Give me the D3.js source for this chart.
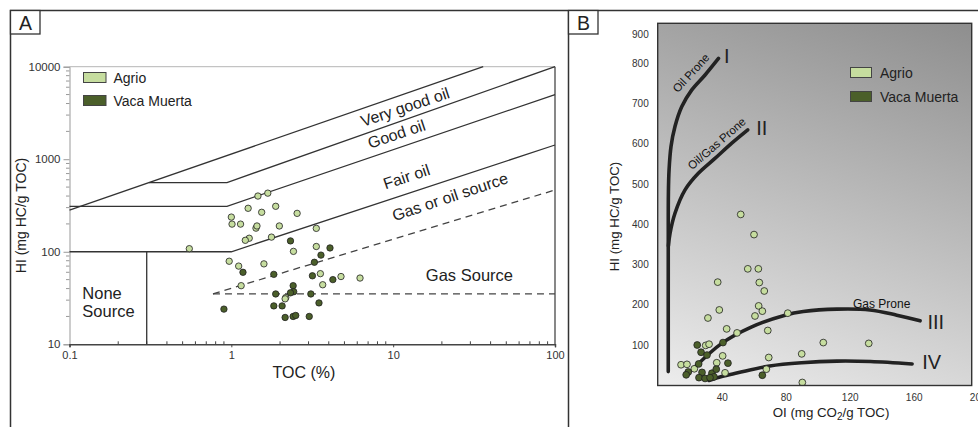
<!DOCTYPE html>
<html>
<head>
<meta charset="utf-8">
<script src="https://cdn.jsdelivr.net/npm/d3@7"></script>
<style>
  html, body { margin: 0; padding: 0; background: #fff; }
  svg { display: block; font-family: "Liberation Sans", Arial, sans-serif; }
</style>
</head>
<body>
<svg id="chart" width="978" height="427"></svg>
<script>
// ---- Panel A: HI vs TOC (log-log) ----
const agrioTOC = [1.46, 1.68, 1.27, 1.54, 1.88, 2.55, 1.0, 1.01, 1.14, 1.42, 1.44, 1.98, 3.35, 1.29, 1.22,
                  1.77, 0.55, 3.35, 2.42, 0.97, 1.11, 1.59, 3.55, 4.76, 6.24, 3.67, 1.15, 2.17, 2.15];
const agrioHI  = [400, 430, 295, 267, 310, 260, 237, 199, 199, 180, 190, 190, 179, 140, 133,
                  144, 108, 114, 101, 79, 70, 74, 58, 54, 52, 44, 43, 32, 31];
const vacaTOC  = [2.32, 4.07, 3.58, 3.26, 1.18, 1.83, 3.17, 4.24, 2.41, 2.43, 2.32, 1.88, 3.10, 3.48,
                  1.83, 2.06, 0.90, 2.15, 2.41, 2.50, 3.03];
const vacaHI   = [131, 110, 92, 77, 60, 57, 55, 50, 43, 37, 36, 35, 35, 28,
                  26, 26, 24, 19.5, 20, 20.5, 20];

// classification boundaries, [TOC, HI]
const veryGoodUpper = [[0.1, 282], [36, 10000]];
const goodUpper     = [[0.31, 560], [0.94, 560], [100, 10000]];
const fairUpper     = [[0.1, 310], [0.94, 310], [100, 5000]];
const fairLower     = [[0.1, 100], [1, 100], [100, 1425]];
const noneSource    = [[0.3, 10], [0.3, 100]];
const gasOilDashed  = [[0.77, 35], [100, 465]];
const gasDashed     = [[0.77, 35], [100, 35]];

const tocTicks = [0.1, 1, 10, 100];
const hiTicksA = [10, 100, 1000, 10000];

// ---- Panel B: pseudo Van Krevelen, HI vs OI ----
const agrioOI  = [51.9, 60.2, 56.3, 62.9, 37.5, 63.5, 66.6, 63.1, 65.4, 60.8, 38.5, 31.4, 81.3, 43.1, 49.6,
                  68.8, 30, 32.1, 40.6, 69.4, 14.6, 18.3, 22.9, 36.9, 42.1, 67.9, 103.5, 131.9, 90, 90.4];
const agrioHIb = [424, 374, 289, 289, 256, 255, 234, 197, 184, 172, 187, 167, 179, 140, 130,
                  136, 99, 102, 73, 69, 51, 52, 41, 56, 31, 40, 106, 104, 78, 7];
const vacaOI   = [24.7, 27.1, 40.8, 25.6, 43.9, 19.1, 17.8, 27.7, 25.8, 29.6, 33.9, 36.6, 35.2, 32.7, 65.4, 30.8];
const vacaHIb  = [100, 82, 106, 53, 55, 33, 26, 32, 19, 17, 30, 40, 21, 19, 25, 75];

// kerogen type evolution paths, [OI, HI]
const typeI   = [[6.6, 34], [6.6, 340], [6.7, 480], [7.1, 534], [8.3, 592], [10.8, 642], [15, 691], [21.3, 733], [29.6, 770], [38, 811]];
const typeII  = [[6.7, 346], [7.7, 377], [10.8, 427], [17.1, 485], [25.4, 526], [35.8, 563], [46.3, 601], [56.3, 634]];
const typeIII = [[23, 44], [40, 104], [58.8, 145], [79.6, 174], [91, 183], [112, 189], [132.7, 187], [149.4, 174], [164, 160]];
const typeIV  = [[32, 12], [40, 22], [50, 31], [70, 48], [90, 56], [112, 60], [133, 59], [159, 53]];

const oiTicks  = [40, 80, 120, 160, 200];
const hiTicksB = [100, 200, 300, 400, 500, 600, 700, 800, 900];

const seriesNames = ["Agrio", "Vaca Muerta"];
const seriesFill  = ["#c6dd9f", "#4b5f2a"];

const svg = d3.select("#chart");
const ink = "#333";

// outer frames and panel letters
svg.append("path")
  .attr("d", "M10.5,427V10.5H978M568.5,10.5V427")
  .attr("fill", "none").attr("stroke", ink).attr("stroke-width", 1.5);
[["A", 10.5, 25.5], ["B", 568.5, 583.5]].forEach(([t, bx, tx]) => {
  svg.append("rect").attr("x", bx).attr("y", 10.5).attr("width", 29.5).attr("height", 23.5)
    .attr("fill", "#fff").attr("stroke", ink).attr("stroke-width", 1.3);
  svg.append("text").attr("x", tx).attr("y", 30).attr("text-anchor", "middle")
    .attr("font-size", 19.5).attr("fill", "#222").text(t);
});

// ================= Panel A =================
const xA = d3.scaleLog().domain([0.1, 100]).range([69.5, 555]);
const yA = d3.scaleLog().domain([10, 10000]).range([344.3, 66.7]);
const gA = svg.append("g");

// plot border: light top, dark right
gA.append("line").attr("x1", xA(0.1)).attr("x2", xA(100)).attr("y1", yA(10000)).attr("y2", yA(10000))
  .attr("stroke", "#b5b5b5").attr("stroke-width", 1);
gA.append("line").attr("x1", xA(100)).attr("x2", xA(100)).attr("y1", yA(10000)).attr("y2", yA(10))
  .attr("stroke", "#555").attr("stroke-width", 1.4);

// minor ticks
const minorTOC = [], minorHI = [];
[0.1, 1, 10].forEach(d => { for (let k = 2; k <= 9; k++) minorTOC.push(d * k); });
[10, 100, 1000].forEach(d => { for (let k = 2; k <= 9; k++) minorHI.push(d * k); });

const axLeft = gA.append("g").attr("transform", `translate(${xA(0.1)},0)`)
  .call(d3.axisLeft(yA).tickValues(hiTicksA).tickSize(6).tickPadding(3).tickFormat(d3.format("d")));
axLeft.select(".domain").attr("stroke", "#999");
axLeft.selectAll(".tick line").attr("stroke", "#999");
axLeft.selectAll("text").attr("font-size", 11.5).attr("fill", ink).attr("font-family", null);
gA.append("g").selectAll("line").data(minorHI).join("line")
  .attr("x1", xA(0.1) - 3.5).attr("x2", xA(0.1)).attr("y1", d => yA(d)).attr("y2", d => yA(d))
  .attr("stroke", "#999");

const axBottom = gA.append("g").attr("transform", `translate(0,${yA(10)})`)
  .call(d3.axisBottom(xA).tickValues(tocTicks).tickSize(3).tickPadding(4)
    .tickFormat(d => d < 1 ? "0.1" : d3.format("d")(d)));
axBottom.select(".domain").attr("stroke", "#444").attr("stroke-width", 1.5);
axBottom.selectAll(".tick line").attr("stroke", "#444");
axBottom.selectAll("text").attr("font-size", 11).attr("fill", ink).attr("font-family", null);
gA.append("g").selectAll("line").data(minorTOC).join("line")
  .attr("x1", d => xA(d)).attr("x2", d => xA(d)).attr("y1", yA(10) - 3).attr("y2", yA(10))
  .attr("stroke", "#444");

// boundaries
const lineA = d3.line().x(d => xA(d[0])).y(d => yA(d[1]));
[veryGoodUpper, goodUpper, fairUpper, fairLower, noneSource].forEach(p =>
  gA.append("path").attr("d", lineA(p)).attr("fill", "none").attr("stroke", "#333").attr("stroke-width", 1.3));
[gasOilDashed, gasDashed].forEach(p =>
  gA.append("path").attr("d", lineA(p)).attr("fill", "none").attr("stroke", "#444")
    .attr("stroke-width", 1.3).attr("stroke-dasharray", "7,5"));

// zone labels
const slopeDeg = -18.5;
[["Very good oil", 11.85, 3664], ["Good oil", 10.5, 1873], ["Fair oil", 12.1, 647], ["Gas or oil source", 22.5, 393]]
  .forEach(([t, tx, ty]) => {
    gA.append("text")
      .attr("transform", `translate(${xA(tx)},${yA(ty)}) rotate(${slopeDeg})`)
      .attr("text-anchor", "middle").attr("dominant-baseline", "central")
      .attr("font-size", 16).attr("fill", "#222").text(t);
  });
gA.append("text").attr("x", xA(29.6)).attr("y", yA(48.2)).attr("text-anchor", "middle")
  .attr("font-size", 16.5).attr("fill", "#222").text("Gas Source");
gA.append("text").attr("x", xA(0.12)).attr("y", yA(31)).attr("font-size", 16.5).attr("fill", "#222").text("None");
gA.append("text").attr("x", xA(0.12)).attr("y", yA(19.5)).attr("font-size", 16.5).attr("fill", "#222").text("Source");

// axis titles
gA.append("text").attr("transform", "translate(26,215.5) rotate(-90)").attr("text-anchor", "middle")
  .attr("font-size", 14).attr("fill", "#222").text("HI (mg HC/g TOC)");
gA.append("text").attr("x", 304).attr("y", 378).attr("text-anchor", "middle")
  .attr("font-size", 16).attr("fill", "#222").text("TOC (%)");

// samples
const markA = (tocs, his, fill) => gA.append("g").selectAll("circle").data(tocs).join("circle")
  .attr("cx", d => xA(d)).attr("cy", (d, i) => yA(his[i])).attr("r", 3.2)
  .attr("fill", fill).attr("stroke", "#1f1f1f").attr("stroke-width", 0.8);
markA(agrioTOC, agrioHI, seriesFill[0]);
markA(vacaTOC, vacaHI, seriesFill[1]);

// legend A
seriesNames.forEach((n, i) => {
  gA.append("rect").attr("x", 83.5).attr("y", 72.5 + i * 23).attr("width", 22.5).attr("height", 10)
    .attr("fill", seriesFill[i]).attr("stroke", "#444").attr("stroke-width", 1);
  gA.append("text").attr("x", 113.5).attr("y", 78 + i * 23).attr("dominant-baseline", "central")
    .attr("font-size", 14).attr("fill", "#222").text(n);
});

// ================= Panel B =================
const xB = d3.scaleLinear().domain([0, 200]).range([657.7, 977.7]);
const yB = d3.scaleLinear().domain([0, 900]).range([385.3, 22.6]);
const gB = svg.append("g");
const plotB = { x: 657.7, y: 23.3, w: 314, h: 362.2 };

const defs = svg.append("defs");
const grad = defs.append("linearGradient").attr("id", "bgB").attr("gradientUnits", "userSpaceOnUse")
  .attr("x1", plotB.x + plotB.w).attr("y1", plotB.y).attr("x2", plotB.x + 175).attr("y2", plotB.y + 420);
grad.append("stop").attr("offset", 0).attr("stop-color", "#8e8e8e");
grad.append("stop").attr("offset", 1).attr("stop-color", "#ededed");
defs.append("clipPath").attr("id", "clipB").append("rect")
  .attr("x", plotB.x).attr("y", plotB.y).attr("width", plotB.w).attr("height", plotB.h);

gB.append("rect").attr("x", plotB.x).attr("y", plotB.y).attr("width", plotB.w).attr("height", plotB.h)
  .attr("fill", "url(#bgB)");

// tick labels (no tick marks)
const axBL = gB.append("g").attr("transform", `translate(${plotB.x},0)`)
  .call(d3.axisLeft(yB).tickValues(hiTicksB).tickSize(0).tickPadding(9));
axBL.select(".domain").remove();
axBL.selectAll("text").attr("font-size", 10).attr("fill", ink).attr("font-family", null)
  .attr("dy", d => d === 900 ? "1.5em" : "0.32em");
const axBB = gB.append("g").attr("transform", `translate(0,${plotB.y + plotB.h})`)
  .call(d3.axisBottom(xB).tickValues(oiTicks).tickSize(0).tickPadding(8));
axBB.select(".domain").remove();
axBB.selectAll("text").attr("font-size", 10).attr("fill", ink).attr("font-family", null);

// evolution paths
const lineB = d3.line().x(d => xB(d[0])).y(d => yB(d[1])).curve(d3.curveCatmullRom.alpha(0.5));
const curvesB = gB.append("g").attr("clip-path", "url(#clipB)");
[typeI, typeII, typeIII, typeIV].forEach(p =>
  curvesB.append("path").attr("d", lineB(p)).attr("fill", "none").attr("stroke", "#222")
    .attr("stroke-width", 3.6).attr("stroke-linecap", "round"));

// path labels
const roman = [["I", 43.1, 817], ["II", 65, 638], ["III", 173.8, 156], ["IV", 171.3, 58.6]];
roman.forEach(([t, ox, hy]) => gB.append("text").attr("x", xB(ox)).attr("y", yB(hy))
  .attr("text-anchor", "middle").attr("dominant-baseline", "central")
  .attr("font-size", 20).attr("fill", "#222").text(t));
[["Oil Prone", 20.8, 775, -47.5], ["Oil/Gas Prone", 36.9, 600, -41]].forEach(([t, ox, hy, a]) =>
  gB.append("text").attr("transform", `translate(${xB(ox)},${yB(hy)}) rotate(${a})`)
    .attr("text-anchor", "middle").attr("dominant-baseline", "central")
    .attr("font-size", 11.5).attr("fill", "#111").text(t));
gB.append("text").attr("x", xB(140)).attr("y", yB(201.7)).attr("text-anchor", "middle")
  .attr("dominant-baseline", "central").attr("font-size", 12).attr("fill", "#111").text("Gas Prone");

// samples
const markB = (ois, his, fill) => gB.append("g").attr("clip-path", "url(#clipB)")
  .selectAll("circle").data(ois).join("circle")
  .attr("cx", d => xB(d)).attr("cy", (d, i) => yB(his[i])).attr("r", 3.4)
  .attr("fill", fill).attr("stroke", "#1f1f1f").attr("stroke-width", 0.8);
markB(agrioOI, agrioHIb, seriesFill[0]);
markB(vacaOI, vacaHIb, seriesFill[1]);

gB.append("rect").attr("x", plotB.x).attr("y", plotB.y).attr("width", plotB.w).attr("height", plotB.h)
  .attr("fill", "none").attr("stroke", "#333").attr("stroke-width", 1.4);

// legend B
seriesNames.forEach((n, i) => {
  gB.append("rect").attr("x", 850.5).attr("y", 67.5 + i * 24).attr("width", 21).attr("height", 10)
    .attr("fill", seriesFill[i]).attr("stroke", "#444").attr("stroke-width", 1);
  gB.append("text").attr("x", 880).attr("y", 72.5 + i * 24).attr("dominant-baseline", "central")
    .attr("font-size", 14).attr("fill", "#222").text(n);
});

// axis titles
gB.append("text").attr("transform", "translate(619,216.5) rotate(-90)").attr("text-anchor", "middle")
  .attr("font-size", 13.3).attr("fill", "#222").text("HI (mg HC/g TOC)");
const oiTitle = gB.append("text").attr("x", 831).attr("y", 417).attr("text-anchor", "middle")
  .attr("font-size", 13.3).attr("fill", "#222");
oiTitle.append("tspan").text("OI (mg CO");
oiTitle.append("tspan").attr("dy", 3).attr("font-size", 10).text("2");
oiTitle.append("tspan").attr("dy", -3).text("/g TOC)");
</script>
</body>
</html>
